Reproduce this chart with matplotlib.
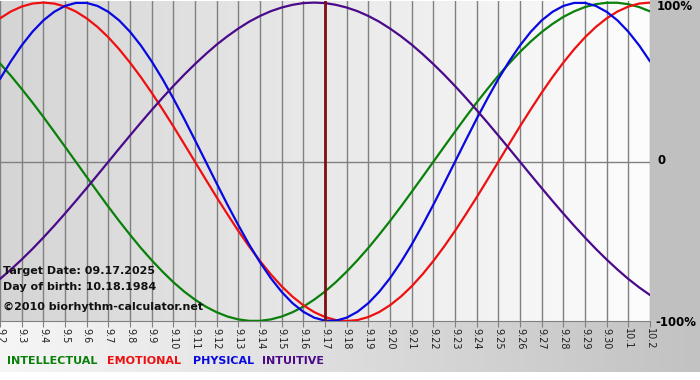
import matplotlib
matplotlib.use("Agg")
import matplotlib.pyplot as plt
import numpy as np
from matplotlib.colors import LinearSegmentedColormap

day_labels = ["9.2", "9.3", "9.4", "9.5", "9.6", "9.7", "9.8", "9.9", "9.10", "9.11",
              "9.12", "9.13", "9.14", "9.15", "9.16", "9.17", "9.18", "9.19", "9.20",
              "9.21", "9.22", "9.23", "9.24", "9.25", "9.26", "9.27", "9.28", "9.29",
              "9.30", "10.1", "10.2"]

physical = [0.520, 0.631, 0.731, 0.817, 0.888, 0.942, 0.979, 0.998, 0.998, 0.979,
            0.942, 0.888, 0.817, 0.731, 0.631, 0.520, 0.398, 0.270, 0.136, 0.000,
            -0.136, -0.270, -0.398, -0.520, -0.631, -0.731, -0.817, -0.888, -0.942, -0.979,
            -0.998, -0.998, -0.979, -0.942, -0.888, -0.817, -0.731, -0.631, -0.520, -0.398,
            -0.270, -0.136, 0.000, 0.136, 0.270, 0.398, 0.520, 0.631, 0.731, 0.817,
            0.888, 0.942, 0.979, 0.998, 0.998, 0.979, 0.942, 0.888, 0.817, 0.731, 0.631]
emotional = [0.901, 0.944, 0.975, 0.994, 1.000, 0.994, 0.975, 0.944, 0.901, 0.847,
             0.782, 0.707, 0.623, 0.532, 0.434, 0.330, 0.223, 0.112, 0.000, -0.112,
             -0.223, -0.330, -0.434, -0.532, -0.623, -0.707, -0.782, -0.847, -0.901, -0.944,
             -0.975, -0.994, -1.000, -0.994, -0.975, -0.944, -0.901, -0.847, -0.782, -0.707,
             -0.623, -0.532, -0.434, -0.330, -0.223, -0.112, 0.000, 0.112, 0.223, 0.330,
             0.434, 0.532, 0.623, 0.707, 0.782, 0.847, 0.901, 0.944, 0.975, 0.994, 1.000]
intellectual = [0.618, 0.541, 0.458, 0.372, 0.282, 0.189, 0.095, 0.000, -0.095, -0.189,
                -0.282, -0.372, -0.458, -0.541, -0.618, -0.690, -0.756, -0.815, -0.866, -0.910,
                -0.945, -0.972, -0.990, -0.999, -0.999, -0.990, -0.972, -0.945, -0.910, -0.866,
                -0.815, -0.756, -0.690, -0.618, -0.541, -0.458, -0.372, -0.282, -0.189, -0.095,
                0.000, 0.095, 0.189, 0.282, 0.372, 0.458, 0.541, 0.618, 0.690, 0.756,
                0.815, 0.866, 0.910, 0.945, 0.972, 0.990, 0.999, 0.999, 0.990, 0.972, 0.945]
intuitive = [-0.736, -0.677, -0.614, -0.547, -0.476, -0.402, -0.325, -0.246, -0.165, -0.083,
             0.000, 0.083, 0.165, 0.246, 0.325, 0.402, 0.476, 0.547, 0.614, 0.677,
             0.736, 0.789, 0.837, 0.880, 0.916, 0.946, 0.969, 0.986, 0.997, 1.000,
             0.997, 0.986, 0.969, 0.946, 0.916, 0.880, 0.837, 0.789, 0.736, 0.677,
             0.614, 0.547, 0.476, 0.402, 0.325, 0.246, 0.165, 0.083, 0.000, -0.083,
             -0.165, -0.246, -0.325, -0.402, -0.476, -0.547, -0.614, -0.677, -0.736, -0.789,
             -0.837]

target_index = 15  # 9.17
target_text = "Target Date: 09.17.2025"
birth_text = "Day of birth: 10.18.1984"
copyright_text = "\u00a92010 biorhythm-calculator.net"

series = [
    ("INTELLECTUAL", intellectual, "#0a800a"),
    ("EMOTIONAL", emotional, "#ee1010"),
    ("PHYSICAL", physical, "#0808e0"),
    ("INTUITIVE", intuitive, "#4a0a8a"),
]

W, H = 700, 380
fig = plt.figure(figsize=(W / 100, H / 100), dpi=100)
fig.patch.set_facecolor("white")

# ── Background panels (pixel coordinates) ──
bg = fig.add_axes([0, 0, 1, 1], zorder=0)
bg.set_xlim(0, W)
bg.set_ylim(H, 0)
bg.axis("off")
grad = np.linspace(0, 1, 256).reshape(1, -1)
bottom_cmap = LinearSegmentedColormap.from_list("b", ["#f6f6f6", "#c2c2c2"])
bg.imshow(grad, cmap=bottom_cmap, extent=(0, W, 372, 320), aspect="auto")
bg.add_patch(plt.Rectangle((650, 0), 50, 320, color="#c0c0c0", lw=0))

# ── Main plot ──
ax = fig.add_axes([0, 59 / H, 650 / W, 320 / H], zorder=1)
days = np.arange(len(day_labels))
xs = np.arange(len(physical)) / 2  # half-day samples
plot_cmap = LinearSegmentedColormap.from_list("p", ["#d5d5d5", "#fdfdfd"])
ax.imshow(grad, cmap=plot_cmap, extent=(0, days[-1], -1, 1.01),
          aspect="auto", zorder=0)
ax.set_xlim(0, days[-1])
ax.set_ylim(-1, 1.01)

for d in days:
    ax.axvline(d, color="#808080", lw=1, zorder=1)
ax.axhline(0, color="#808080", lw=1, zorder=1)

for name, vals, color in series:
    ax.plot(xs, vals, color=color, lw=1.6, zorder=3, solid_capstyle="round",
            solid_joinstyle="round")

ax.axvline(target_index, color="#7a1212", lw=2, zorder=4)

for side in ["top", "right", "left"]:
    ax.spines[side].set_visible(False)
ax.spines["bottom"].set_color("#808080")
ax.set_yticks([])
ax.set_xticks(days)
ax.set_xticklabels(day_labels, rotation=-90, fontsize=7, color="#202020")
ax.tick_params(axis="x", length=4, color="#808080", pad=1)

# Right-side percent labels
fig.text(657 / W, 1 - 6 / H, "100%", fontsize=8.5, fontweight="bold", va="center")
fig.text(657 / W, 1 - 161 / H, "0", fontsize=8.5, fontweight="bold", va="center")
fig.text(655 / W, 1 - 322 / H, "-100%", fontsize=8.5, fontweight="bold", va="center")

# Info text
for ypix, txt in [(271, target_text), (287, birth_text), (307, copyright_text)]:
    fig.text(3 / W, 1 - ypix / H, txt, fontsize=8, fontweight="bold",
             va="center", color="#111111", zorder=5)

# Legend words
for (name, vals, color), xpix in zip(series, [7, 107, 193, 262]):
    fig.text(xpix / W, 1 - 361 / H, name, fontsize=8, fontweight="bold",
             color=color, va="center")

fig.savefig("out.png", dpi=100)
